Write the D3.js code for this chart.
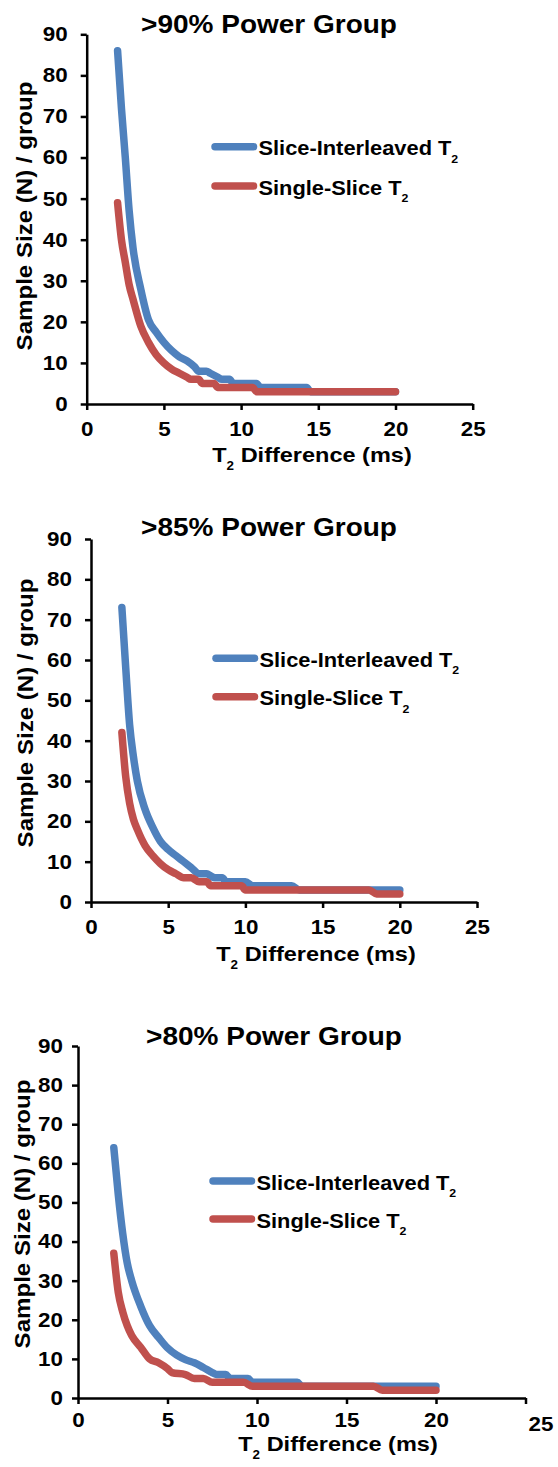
<!DOCTYPE html>
<html>
<head>
<meta charset="utf-8">
<script src="https://cdn.jsdelivr.net/npm/d3@7"></script>
<style>
  body { margin: 0; background: #fff; }
  text { font-family: "Liberation Sans", Arial, sans-serif; font-weight: bold; fill: #000; }
</style>
</head>
<body>
<div id="chart"></div>
<script>
// Axis ticks and labels
const xTicks = [0, 5, 10, 15, 20, 25];
const yTicks = [0, 10, 20, 30, 40, 50, 60, 70, 80, 90];
const panelTitles = [">90% Power Group", ">85% Power Group", ">80% Power Group"];
const seriesNames = ["Slice-Interleaved T", "Single-Slice T"];
const seriesColors = ["#4F81BD", "#C0504D"];

// [T2 difference (ms), sample size N]
const interleaved90 = [[2, 86], [2.25, 72], [2.5, 60], [2.75, 47], [3, 38], [3.5, 28], [4, 20.5], [4.5, 17.5],
  [5, 15], [5.5, 13], [6, 11.5], [6.5, 10.5], [7, 9], [7.25, 8], [7.75, 8], [8, 7.5], [8.5, 6.5], [8.75, 6],
  [9.25, 6], [9.5, 5], [11, 5], [11.25, 4], [14.25, 4], [14.5, 3], [20, 3]];
const single90 = [[2, 49], [2.25, 40], [2.5, 34.5], [2.75, 29], [3, 25.5], [3.5, 19], [4, 15], [4.5, 12],
  [5, 10], [5.5, 8.5], [6, 7.5], [6.5, 6.5], [6.75, 6], [7.25, 6], [7.5, 5], [8.25, 5], [8.5, 4], [10.75, 4],
  [11, 3], [20, 3]];

const interleaved85 = [[2, 73], [2.25, 58], [2.5, 44], [2.75, 36], [3, 30], [3.5, 23], [4, 18.5], [4.5, 15],
  [5, 13], [5.5, 11.5], [6, 10], [6.5, 8.5], [7, 7], [7.5, 7], [7.75, 6.5], [8, 6], [8.5, 6], [8.75, 5],
  [10, 5], [10.5, 4], [13, 4], [13.5, 3], [20, 3]];
const single85 = [[2, 42], [2.25, 31], [2.5, 24.5], [2.75, 20.5], [3, 18], [3.5, 14], [4, 11.5], [4.5, 9.5],
  [5, 8], [5.5, 7], [6, 6], [6.5, 6], [7, 5], [7.5, 5], [7.75, 4], [9.75, 4], [10, 3], [18, 3], [18.5, 2], [20, 2]];

const interleaved80 = [[2, 64], [2.25, 52], [2.5, 42], [2.75, 34.5], [3, 30], [3.5, 23.5], [4, 18.5], [4.5, 15.5],
  [5, 12.8], [5.5, 11], [6, 9.8], [6.5, 9], [7, 7.8], [7.5, 6.5], [7.75, 6], [8.25, 6], [8.5, 5], [9.5, 5],
  [9.75, 4], [12.25, 4], [12.5, 3], [20, 3]];
const single80 = [[2, 37], [2.25, 27], [2.5, 22], [2.75, 18.5], [3, 16], [3.5, 13], [4, 10], [4.5, 9],
  [5, 7.5], [5.25, 6.5], [6, 6], [6.5, 5], [7, 5], [7.5, 4], [9.25, 4], [9.75, 3], [16.5, 3], [17, 2], [20, 2]];

const panelSeries = [[interleaved90, single90], [interleaved85, single85], [interleaved80, single80]];

// where each panel sits on the page
const layout = [
  { x0: 86.7, x25: 472.7, y0: 404, y90: 34.3, tickGap: 19, tickY: 18, titleX: 269, titleY: 33, yLabX: 31.5, yLabY: 216, xLabX: 312, xLabY: 462, legX: 215, legY: 146.7, legGap: 39.3 },
  { x0: 91, x25: 477, y0: 902, y90: 539, tickGap: 19, tickY: 18, titleX: 269, titleY: 536, yLabX: 33, yLabY: 713, xLabX: 316, xLabY: 961, legX: 216, legY: 658.3, legGap: 38.4 },
  { x0: 78, x25: 525.5, y0: 1398, y90: 1046, tickGap: 15, tickY: 15, titleX: 274, titleY: 1045, yLabX: 30, yLabY: 1214, xLabX: 338, xLabY: 1451, legX: 213, legY: 1181, legGap: 38 }
];

const width = 558;
const height = 1467;
const SX = 1.12; // the fonts in the figure are a bit wide

const svg = d3.select("#chart")
  .append("svg")
  .attr("width", width)
  .attr("height", height);

svg.append("rect").attr("width", width).attr("height", height).attr("fill", "#fff");

function label(g, x, y, size, anchor, rot) {
  return g.append("text")
    .attr("transform", `translate(${x},${y}) rotate(${rot || 0}) scale(${SX},1)`)
    .attr("text-anchor", anchor)
    .style("font-size", size + "px");
}

function withSub(t, main, sub, rest, subSize, drop) {
  t.append("tspan").text(main);
  t.append("tspan").attr("dy", drop).style("font-size", subSize + "px").text(sub);
  if (rest) t.append("tspan").attr("dy", -drop).text(rest);
}

layout.forEach((L, i) => {
  const g = svg.append("g");

  const x = d3.scaleLinear().domain([0, 25]).range([L.x0, L.x25]);
  const y = d3.scaleLinear().domain([0, 90]).range([L.y0, L.y90]);

  // y axis
  g.append("g")
    .attr("transform", `translate(${L.x0},0)`)
    .call(d3.axisLeft(y).tickValues(yTicks).tickSize(6).tickSizeOuter(0))
    .call(a => a.select(".domain").attr("stroke-width", 2.5))
    .call(a => a.selectAll(".tick line").attr("stroke-width", 2.5))
    .call(a => a.selectAll(".tick text")
      .attr("x", -L.tickGap / SX)
      .attr("transform", `scale(${SX},1)`)
      .style("font-size", "20px"));

  // x axis
  const xa = g.append("g")
    .attr("transform", `translate(0,${L.y0})`)
    .call(d3.axisBottom(x).tickValues(xTicks).tickSize(6).tickSizeOuter(0))
    .call(a => a.select(".domain").attr("stroke-width", 2.5))
    .call(a => a.selectAll(".tick line").attr("stroke-width", 2.5))
    .call(a => a.selectAll(".tick text")
      .attr("y", L.tickY)
      .attr("transform", `scale(${SX},1)`)
      .style("font-size", "20px"));

  // the last panel has its "25" pushed out to the right
  if (i === 2) {
    xa.selectAll(".tick").filter(d => d === 25).select("text")
      .attr("transform", `translate(15,4) scale(${SX},1)`);
  }

  // curves, red drawn over blue
  const line = d3.line()
    .x(d => x(d[0]))
    .y(d => y(d[1]))
    .curve(d3.curveMonotoneX);

  panelSeries[i].forEach((s, k) => {
    g.append("path")
      .datum(s)
      .attr("d", line)
      .attr("fill", "none")
      .attr("stroke", seriesColors[k])
      .attr("stroke-width", 7.5)
      .attr("stroke-linecap", "round")
      .attr("stroke-linejoin", "round");
  });

  // title
  label(g, L.titleX, L.titleY, 25, "middle").text(panelTitles[i]);

  // axis titles
  label(g, L.yLabX, L.yLabY, 21.5, "middle", -90).text("Sample Size (N) / group");
  withSub(label(g, L.xLabX, L.xLabY, 21, "middle"), "T", "2", " Difference (ms)", 12, 8);

  // legend
  seriesNames.forEach((name, k) => {
    const ly = L.legY + k * L.legGap;
    g.append("line")
      .attr("x1", L.legX).attr("x2", L.legX + 38.5)
      .attr("y1", ly).attr("y2", ly)
      .attr("stroke", seriesColors[k])
      .attr("stroke-width", 7.5)
      .attr("stroke-linecap", "round");
    withSub(label(g, L.legX + 43.5, ly + 8.5, 19.5, "start"), name, "2", null, 11, 7.5);
  });
});
</script>
</body>
</html>
